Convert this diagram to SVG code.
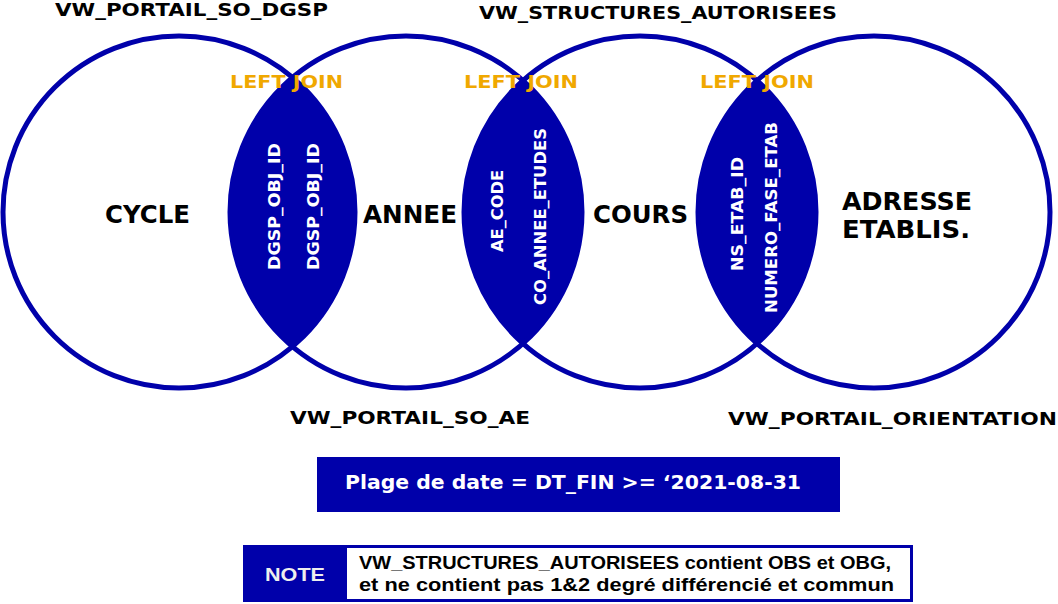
<svg xmlns="http://www.w3.org/2000/svg" width="1058" height="604" viewBox="0 0 1058 604">
<style>
  .circ { fill: none; stroke: #0000AA; stroke-width: 5; }
  .lens { fill: #0000AA; stroke: none; }
  .title { font-family: "DejaVu Sans", Verdana, sans-serif; font-weight: bold; font-size: 18.5px; fill: #000; }
  .join { font-family: "DejaVu Sans", Verdana, sans-serif; font-weight: bold; font-size: 18px; fill: #F0A800; }
  .big { font-family: "DejaVu Sans", Verdana, sans-serif; font-weight: bold; font-size: 24px; fill: #000; }
  .key { font-family: "DejaVu Sans", Verdana, sans-serif; font-weight: bold; font-size: 15.5px; fill: #FFF; text-anchor: middle; }
  .box { fill: #0000AA; }
  .boxtxt { font-family: "DejaVu Sans", Verdana, sans-serif; font-weight: bold; font-size: 20px; fill: #FFF; }
  .note { font-family: "Liberation Sans", Arial, sans-serif; font-weight: bold; font-size: 18px; fill: #000; }
  .notelbl { font-family: "Liberation Sans", Arial, sans-serif; font-weight: bold; font-size: 19px; fill: #EEEEEE; }
</style>
<rect width="1058" height="604" fill="#FFFFFF"/>
<g id="lenses">
  <path class="lens" d="M 292.5 77.5 A 176 176 0 0 0 292.5 346.5 A 176 176 0 0 0 292.5 77.5 Z"/>
  <path class="lens" d="M 523 80.5 A 176 176 0 0 0 523 343.5 A 176 176 0 0 0 523 80.5 Z"/>
  <path class="lens" d="M 757 80.5 A 176 176 0 0 0 757 343.5 A 176 176 0 0 0 757 80.5 Z"/>
</g>
<g id="circle-cycle">
  <circle class="circ" cx="179" cy="212" r="176"/>
  <text class="title" x="55" y="16" textLength="273" lengthAdjust="spacingAndGlyphs">VW_PORTAIL_SO_DGSP</text>
  <text class="big" x="105" y="223" textLength="85" lengthAdjust="spacingAndGlyphs">CYCLE</text>
</g>
<g id="circle-annee">
  <circle class="circ" cx="406" cy="212" r="176"/>
  <text class="title" x="290" y="424" textLength="240" lengthAdjust="spacingAndGlyphs">VW_PORTAIL_SO_AE</text>
  <text class="big" x="363" y="223" textLength="94" lengthAdjust="spacingAndGlyphs">ANNEE</text>
</g>
<g id="circle-cours">
  <circle class="circ" cx="640" cy="212" r="176"/>
  <text class="title" x="479" y="19" textLength="358" lengthAdjust="spacingAndGlyphs">VW_STRUCTURES_AUTORISEES</text>
  <text class="big" x="593" y="223" textLength="95" lengthAdjust="spacingAndGlyphs">COURS</text>
</g>
<g id="circle-adresse">
  <circle class="circ" cx="874" cy="212" r="176"/>
  <text class="title" x="728" y="425" textLength="329" lengthAdjust="spacingAndGlyphs">VW_PORTAIL_ORIENTATION</text>
  <text class="big" x="842" y="210" textLength="130" lengthAdjust="spacingAndGlyphs">ADRESSE</text>
  <text class="big" x="842" y="238" textLength="128" lengthAdjust="spacingAndGlyphs">ETABLIS.</text>
</g>
<g id="join-1">
  <text class="join" x="230" y="88" textLength="113" lengthAdjust="spacingAndGlyphs">LEFT JOIN</text>
  <text class="key" transform="translate(280 206.5) rotate(-90)" textLength="127" lengthAdjust="spacingAndGlyphs">DGSP_OBJ_ID</text>
  <text class="key" transform="translate(319 206.5) rotate(-90)" textLength="127" lengthAdjust="spacingAndGlyphs">DGSP_OBJ_ID</text>
</g>
<g id="join-2">
  <text class="join" x="464" y="88" textLength="114" lengthAdjust="spacingAndGlyphs">LEFT JOIN</text>
  <text class="key" transform="translate(503 211) rotate(-90)" textLength="82" lengthAdjust="spacingAndGlyphs">AE_CODE</text>
  <text class="key" transform="translate(546 216.5) rotate(-90)" textLength="177" lengthAdjust="spacingAndGlyphs">CO_ANNEE_ETUDES</text>
</g>
<g id="join-3">
  <text class="join" x="700" y="88" textLength="114" lengthAdjust="spacingAndGlyphs">LEFT JOIN</text>
  <text class="key" transform="translate(743 214) rotate(-90)" textLength="114" lengthAdjust="spacingAndGlyphs">NS_ETAB_ID</text>
  <text class="key" transform="translate(777 217.5) rotate(-90)" textLength="191" lengthAdjust="spacingAndGlyphs">NUMERO_FASE_ETAB</text>
</g>
<g id="date-box">
  <rect class="box" x="317" y="457" width="523" height="55"/>
  <text class="boxtxt" x="345" y="489" textLength="456" lengthAdjust="spacingAndGlyphs">Plage de date = DT_FIN &gt;= ‘2021-08-31</text>
</g>
<g id="note-box">
  <rect class="box" x="243" y="545" width="670" height="57"/>
  <rect x="347" y="548" width="563" height="51" fill="#FFFFFF"/>
  <text class="notelbl" x="265" y="581" textLength="60" lengthAdjust="spacingAndGlyphs">NOTE</text>
  <text class="note" x="359" y="569" textLength="532" lengthAdjust="spacingAndGlyphs">VW_STRUCTURES_AUTORISEES contient OBS et OBG,</text>
  <text class="note" x="359" y="591" textLength="535" lengthAdjust="spacingAndGlyphs">et ne contient pas 1&amp;2 degré différencié et commun</text>
</g>
<g id="connectors"/>
</svg>
